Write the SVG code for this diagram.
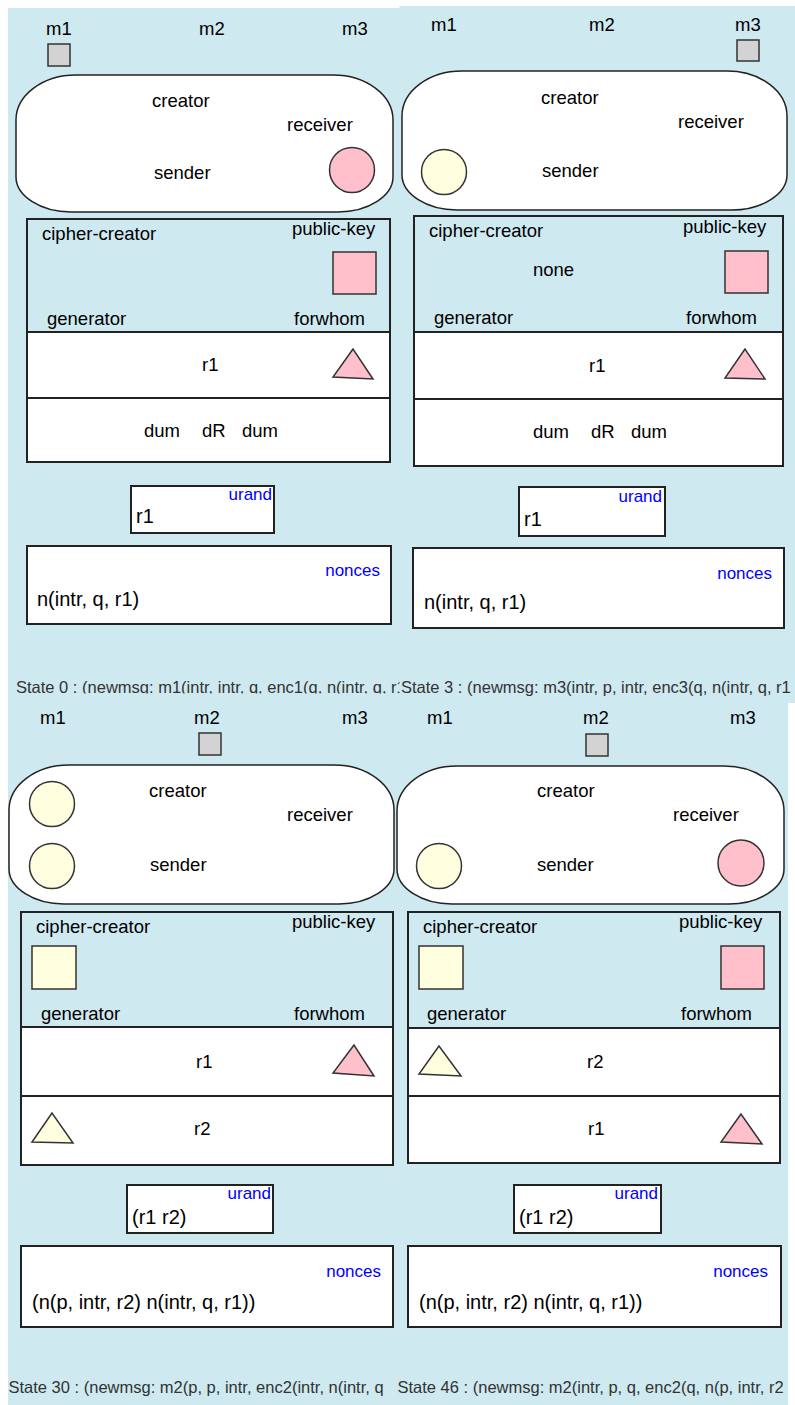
<svg xmlns="http://www.w3.org/2000/svg" width="795" height="1405" viewBox="0 0 795 1405">
<style>
text{font-family:"Liberation Sans",Arial,Helvetica,sans-serif;fill:#000}
.bg{fill:#cee9f0}
.lbl{font-size:18.5px}
.val{font-size:20px}
.tag{font-size:17px;fill:#0000ff;text-anchor:end}
.state{font-size:16.5px;fill:#333}
.cloud{fill:#fff;stroke:#222;stroke-width:1.5}
.frame{fill:none;stroke:#222;stroke-width:2}
.row{fill:#fff;stroke:#222;stroke-width:2}
.pink{fill:#ffc0cb;stroke:#333;stroke-width:1.5}
.yel{fill:#ffffe0;stroke:#333;stroke-width:1.5}
.gray{fill:#d3d3d3;stroke:#333;stroke-width:1.5}
</style>
<rect width="795" height="1405" fill="#fff"/>

<g id="state0">
<rect class="bg" x="8" y="8" width="392" height="695"/>
<text class="lbl" x="46" y="35">m1</text>
<text class="lbl" x="199" y="35">m2</text>
<text class="lbl" x="342" y="35">m3</text>
<rect class="gray" x="48" y="44" width="22" height="22"/>
<path class="cloud" d="M76,75 L333,75 C366,75 393,95 393,120 L393,177 C393,196 368,212 338,212 L71,212 C41,212 16,196 16,177 L16,120 C16,95 43,75 76,75 Z"/>
<text class="lbl" x="152" y="107">creator</text>
<text class="lbl" x="287" y="131">receiver</text>
<text class="lbl" x="154" y="179">sender</text>
<circle class="pink" cx="352" cy="170" r="22.5"/>
<rect class="row" x="27" y="332" width="363" height="66"/>
<rect class="row" x="27" y="398" width="363" height="64"/>
<rect class="frame" x="27" y="219" width="363" height="243"/>
<text class="lbl" x="42" y="240">cipher-creator</text>
<text class="lbl" x="292" y="235">public-key</text>
<rect class="pink" x="333" y="252" width="43" height="42"/>
<text class="lbl" x="47" y="325">generator</text>
<text class="lbl" x="294" y="325">forwhom</text>
<text class="lbl" x="202" y="371">r1</text>
<polygon class="pink" points="353,349 333,377 373,379"/>
<text class="lbl" x="144" y="437">dum</text>
<text class="lbl" x="202" y="437">dR</text>
<text class="lbl" x="242" y="437">dum</text>
<rect class="row" x="131" y="486" width="143" height="47"/>
<text class="tag" x="272" y="500">urand</text>
<text class="val" x="136" y="523">r1</text>
<rect class="row" x="27" y="546" width="364" height="78"/>
<text class="tag" x="380" y="576">nonces</text>
<text class="val" x="37" y="606">n(intr, q, r1)</text>
<text class="state" x="16" y="693">State 0 : (newmsg: m1(intr, intr, q, enc1(q, n(intr, q, r1</text>
</g>

<g id="state30">
<rect class="bg" x="8" y="693.5" width="391" height="712"/>
<text class="lbl" x="40" y="724">m1</text>
<text class="lbl" x="194" y="724">m2</text>
<text class="lbl" x="342" y="724">m3</text>
<rect class="gray" x="199" y="733" width="22" height="22"/>
<path class="cloud" d="M69,765 L334,765 C367,765 394,785 394,810 L394,869 C394,888 369,904 339,904 L64,904 C34,904 9,888 9,869 L9,810 C9,785 36,765 69,765 Z"/>
<circle class="yel" cx="52" cy="804" r="22.5"/>
<circle class="yel" cx="52" cy="866" r="22.5"/>
<text class="lbl" x="149" y="797">creator</text>
<text class="lbl" x="287" y="821">receiver</text>
<text class="lbl" x="150" y="871">sender</text>
<rect class="row" x="21" y="1027" width="372" height="69"/>
<rect class="row" x="21" y="1096" width="372" height="69"/>
<rect class="frame" x="21" y="912" width="372" height="253"/>
<text class="lbl" x="36" y="933">cipher-creator</text>
<text class="lbl" x="292" y="928">public-key</text>
<rect class="yel" x="32" y="946" width="44" height="43"/>
<text class="lbl" x="41" y="1020">generator</text>
<text class="lbl" x="294" y="1020">forwhom</text>
<text class="lbl" x="196" y="1068">r1</text>
<polygon class="pink" points="354,1045 333,1073 374,1076"/>
<text class="lbl" x="194" y="1135">r2</text>
<polygon class="yel" points="52,1113 32,1142 73,1143"/>
<rect class="row" x="127" y="1185" width="146" height="48"/>
<text class="tag" x="271" y="1199">urand</text>
<text class="val" x="132" y="1224">(r1 r2)</text>
<rect class="row" x="21" y="1246" width="372" height="81"/>
<text class="tag" x="381" y="1277">nonces</text>
<text class="val" x="32" y="1309">(n(p, intr, r2) n(intr, q, r1))</text>
<text class="state" x="8.5" y="1392.5">State 30 : (newmsg: m2(p, p, intr, enc2(intr, n(intr, q</text>
</g>

<g id="state46">
<rect class="bg" x="395" y="700" width="393" height="705"/>
<text class="lbl" x="427" y="724">m1</text>
<text class="lbl" x="583" y="724">m2</text>
<text class="lbl" x="730" y="724">m3</text>
<rect class="gray" x="586" y="734" width="22" height="22"/>
<path class="cloud" d="M457,766 L724,766 C757,766 784,786 784,811 L784,869 C784,888 759,904 729,904 L452,904 C422,904 397,888 397,869 L397,811 C397,786 424,766 457,766 Z"/>
<text class="lbl" x="537" y="797">creator</text>
<text class="lbl" x="673" y="821">receiver</text>
<text class="lbl" x="537" y="871">sender</text>
<circle class="yel" cx="439" cy="866" r="22.5"/>
<circle class="pink" cx="741" cy="863" r="23"/>
<rect class="row" x="408" y="1028" width="372" height="68"/>
<rect class="row" x="408" y="1096" width="372" height="67"/>
<rect class="frame" x="408" y="912" width="372" height="251"/>
<text class="lbl" x="423" y="933">cipher-creator</text>
<text class="lbl" x="679" y="928">public-key</text>
<rect class="yel" x="419" y="946" width="44" height="43"/>
<rect class="pink" x="721" y="946" width="43" height="43"/>
<text class="lbl" x="427" y="1020">generator</text>
<text class="lbl" x="681" y="1020">forwhom</text>
<text class="lbl" x="587" y="1068">r2</text>
<polygon class="yel" points="439,1046 419,1074 461,1076"/>
<text class="lbl" x="588" y="1135">r1</text>
<polygon class="pink" points="741,1114 721,1142 762,1144"/>
<rect class="row" x="514" y="1185" width="147" height="48"/>
<text class="tag" x="658" y="1199">urand</text>
<text class="val" x="519" y="1224">(r1 r2)</text>
<rect class="row" x="408" y="1246" width="373" height="81"/>
<text class="tag" x="768" y="1277">nonces</text>
<text class="val" x="419" y="1309">(n(p, intr, r2) n(intr, q, r1))</text>
<text class="state" x="397.5" y="1392.5">State 46 : (newmsg: m2(intr, p, q, enc2(q, n(p, intr, r2</text>
</g>

<g id="state3">
<rect class="bg" x="399.5" y="6" width="395.5" height="697"/>
<text class="lbl" x="431" y="31">m1</text>
<text class="lbl" x="589" y="31">m2</text>
<text class="lbl" x="735" y="31">m3</text>
<rect class="gray" x="737" y="40" width="22" height="21"/>
<path class="cloud" d="M462,71 L727,71 C760,71 787,91 787,116 L787,175 C787,194 762,210 732,210 L457,210 C427,210 402,194 402,175 L402,116 C402,91 429,71 462,71 Z"/>
<text class="lbl" x="541" y="104">creator</text>
<text class="lbl" x="678" y="128">receiver</text>
<text class="lbl" x="542" y="177">sender</text>
<circle class="yel" cx="444" cy="172" r="22.5"/>
<rect class="row" x="414" y="332" width="369" height="67"/>
<rect class="row" x="414" y="399" width="369" height="67"/>
<rect class="frame" x="414" y="216" width="369" height="250"/>
<text class="lbl" x="429" y="237">cipher-creator</text>
<text class="lbl" x="683" y="233">public-key</text>
<text class="lbl" x="533" y="276">none</text>
<rect class="pink" x="725" y="251" width="43" height="42"/>
<text class="lbl" x="434" y="324">generator</text>
<text class="lbl" x="686" y="324">forwhom</text>
<text class="lbl" x="589" y="372">r1</text>
<polygon class="pink" points="745,349 725,378 765,379"/>
<text class="lbl" x="533" y="438">dum</text>
<text class="lbl" x="591" y="438">dR</text>
<text class="lbl" x="631" y="438">dum</text>
<rect class="row" x="519" y="487" width="146" height="49"/>
<text class="tag" x="662" y="502">urand</text>
<text class="val" x="524" y="526">r1</text>
<rect class="row" x="413" y="548" width="371" height="80"/>
<text class="tag" x="772" y="579">nonces</text>
<text class="val" x="424" y="609">n(intr, q, r1)</text>
<text class="state" x="401" y="692.5">State 3 : (newmsg: m3(intr, p, intr, enc3(q, n(intr, q, r1</text>
</g>
</svg>
